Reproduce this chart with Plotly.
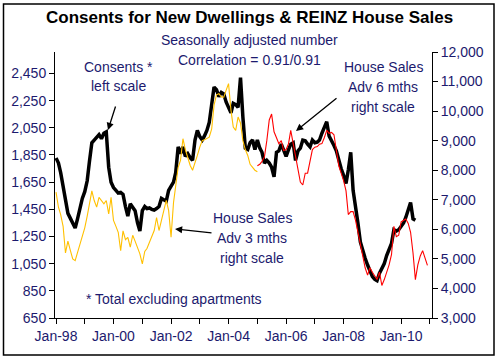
import pandas as pd
import plotly.graph_objects as go

# ---- data ----
consents = [1828,1791,1720,1620,1500,1420,1385,1350,1312,1380,
            1460,1530,1580,1660,1800,1940,1960,1985,2000,1970,
            2010,2020,1760,1650,1610,1590,1570,1575,1560,1470,
            1400,1490,1460,1440,1350,1290,1440,1470,1455,1460,
            1450,1445,1455,1470,1530,1520,1510,1590,1620,1650,
            1720,1910,1860,1910,1840,1860,1830,1810,1960,2030,
            1985,1960,1990,2030,2090,2250,2350,2330,2280,2310,
            2300,2240,2200,2160,2230,2220,2200,2420,2130,1900,
            1890,1940,1960,1890,1960,1900,1870,1790,1810,1790,
            1760,1690,1870,1880,1930,1880,1840,1890,1930,1940,
            1810,1880,1900,1960,1955,1930,1910,1960,1940,1945,
            1960,2010,2060,2095,1990,1960,1920,1880,1810,1750,
            1700,1640,1740,1870,1590,1480,1350,1210,1140,1090,
            1040,1000,955,935,925,980,1010,1050,1110,1160,
            1200,1300,1290,1300,1330,1350,1390,1450,1500,1380,
            1370]

sales_adv3 = [7256,6748,6500,6100,5200,5600,5300,5000,4940,5200,
              5500,5750,6050,6450,6900,7300,6975,6750,7080,6950,
              6860,6975,6520,7080,6300,6100,5900,5280,5950,5650,
              5730,5400,5800,5600,5350,5170,4830,5250,5350,5550,
              5730,5960,6400,5960,6300,6640,6980,6640,5730,6900,
              7500,8100,8330,9066,8700,8450,8160,8000,8300,8500,
              8780,9000,9030,9070,9120,9400,10200,10550,10590,10480,
              10470,10700,10930,10025,9460,9350,9800,9600,9000,8700,
              8500,8200,8100,8000,7950]

sales_adv6 = [8150,8200,8300,8450,9000,9700,9900,9300,9100,8900,
              9000,8670,8700,8900,9350,8900,8500,8100,7600,7500,
              7900,7900,8300,8700,8780,8800,8880,8900,9100,9350,
              9250,9280,9200,8600,8150,7900,7650,7300,6500,6600,
              6600,6300,5900,5450,5000,4700,4450,4700,4550,4400,
              4300,4550,4100,4300,4550,4800,5150,6100,5750,5800,
              6250,6300,6350,6200,5900,5200,4300,4800,5100,5280,
              5050,4780]

months = pd.date_range("1998-01-01", periods=156, freq="MS")
consents_dates = months[:len(consents)]
adv3_dates = months[:len(sales_adv3)]
adv6_dates = months[84:84 + len(sales_adv6)]

left_ticks = [650, 850, 1050, 1250, 1450, 1650, 1850, 2050, 2250, 2450]

NAVY = "#1c1a6e"
FONT = "Arial, Liberation Sans, sans-serif"

fig = go.Figure()
fig.add_trace(go.Scatter(x=consents_dates, y=consents, mode="lines",
                         line=dict(color="black", width=3.5), yaxis="y"))
fig.add_trace(go.Scatter(x=adv3_dates, y=sales_adv3, mode="lines",
                         line=dict(color="#FFC000", width=1.1), yaxis="y2"))
fig.add_trace(go.Scatter(x=adv6_dates, y=sales_adv6, mode="lines",
                         line=dict(color="#FF0000", width=1.1), yaxis="y2"))

L, R, T, B = 55, 68, 52, 45
W, H = 500, 363
PW, PH = W - L - R, H - T - B

def px(xp):
    return (xp - L) / PW

def py(yp):
    return (H - B - yp) / PH

annotations = []
def text(t, xp, yp, size=14, color=NAVY, bold=False):
    annotations.append(dict(text=f"<b>{t}</b>" if bold else t, x=px(xp), y=py(yp),
                            xref="paper", yref="paper", showarrow=False,
                            xanchor="center", yanchor="middle",
                            font=dict(size=size, color=color, family=FONT)))

def arrow(hx, hy, tx, ty):
    annotations.append(dict(text="", x=px(hx), y=py(hy), xref="paper", yref="paper",
                            ax=tx - hx, ay=ty - hy, showarrow=True,
                            arrowhead=2, arrowsize=1.1, arrowwidth=1.3,
                            arrowcolor="black"))

text("Consents for New Dwellings & REINZ House Sales", 249, 18, size=17,
     color="black", bold=True)
text("Seasonally adjusted number", 249, 40)
text("Correlation = 0.91/0.91", 249, 60)
text("Consents *", 118, 67)
text("left scale", 118, 86)
text("House Sales", 252, 218)
text("Adv 3 mths", 252, 238)
text("right scale", 252, 258)
text("House Sales", 383, 67)
text("Adv 6 mths", 383, 87)
text("right scale", 383, 107)
text("* Total excluding apartments", 174, 299)
arrow(108, 130, 116, 105)
arrow(175, 229, 213, 233)
arrow(296, 131, 338, 97)

fig.update_layout(
    width=W, height=H,
    margin=dict(l=L, r=R, t=T, b=B, pad=0),
    paper_bgcolor="white", plot_bgcolor="white",
    showlegend=False, hovermode=False,
    font=dict(family=FONT, size=14, color=NAVY),
    annotations=annotations,
    shapes=[dict(type="rect", xref="paper", yref="paper",
                 x0=px(3.5), x1=px(494), y0=py(355), y1=py(4),
                 line=dict(color="black", width=1.5))],
    xaxis=dict(type="date", range=["1997-12-19", "2011-01-28"],
               tick0="1998-01-01", dtick="M24", tickformat="%b-%y",
               ticks="outside", ticklen=5, tickcolor="black",
               showline=True, linecolor="black", linewidth=1,
               showgrid=False, zeroline=False,
               minor=dict(dtick="M12", tick0="1998-01-01", ticks="outside",
                          ticklen=5, tickcolor="black", showgrid=False),
               tickfont=dict(size=14, color=NAVY)),
    yaxis=dict(range=[650, 2608], tickvals=left_ticks, tickformat=",",
               ticks="outside", ticklen=5, tickcolor="black",
               showline=True, linecolor="black", linewidth=1,
               showgrid=False, zeroline=False,
               tickfont=dict(size=14, color=NAVY)),
    yaxis2=dict(range=[3000, 12000], dtick=1000, tick0=3000, tickformat=",",
                overlaying="y", side="right",
                ticks="outside", ticklen=5, tickcolor="black",
                showline=True, linecolor="black", linewidth=1,
                showgrid=False, zeroline=False,
                tickfont=dict(size=14, color=NAVY)),
)

fig.write_html("out.html",
               config={"displayModeBar": False, "staticPlot": True},
               post_script="document.body.style.margin='0px';"
                           "document.body.style.overflow='hidden';"
                           "document.documentElement.style.overflow='hidden';")
